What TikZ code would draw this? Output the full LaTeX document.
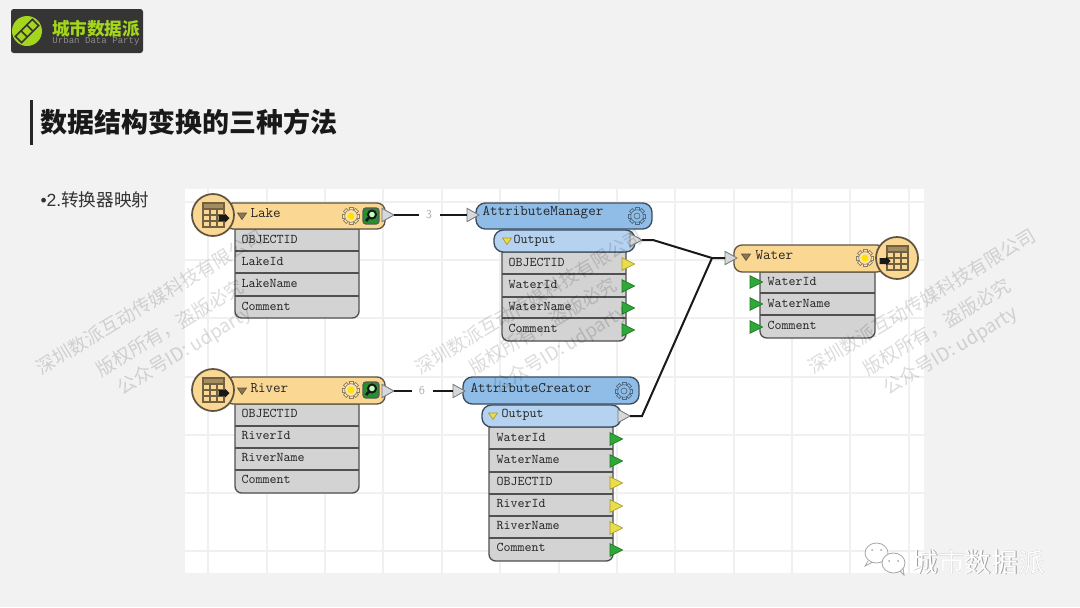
\documentclass[tikz,border=0pt]{standalone}
\usepackage{fontspec}
\usetikzlibrary{shapes.geometric}
\newfontfamily\cjk{Noto Sans CJK SC}
\newfontfamily\logomono{Liberation Mono}
\newfontfamily\latinsans{Liberation Sans}

\definecolor{slidebg}{HTML}{F2F2F2}
\definecolor{gridln}{HTML}{F0F0F0}
\definecolor{logodark}{HTML}{353535}
\definecolor{logogreen}{HTML}{A4D61C}
\definecolor{tanfill}{HTML}{FBD794}
\definecolor{tanline}{HTML}{5E5440}
\definecolor{gearfill}{HTML}{FBE3AE}
\definecolor{bluehead}{HTML}{8FBDE8}
\definecolor{bluesub}{HTML}{B5D3F0}
\definecolor{blueline}{HTML}{3C4E60}
\definecolor{rowfill}{HTML}{D3D3D3}
\definecolor{rowline}{HTML}{505050}
\definecolor{portgreen}{HTML}{2EA836}
\definecolor{portyellow}{HTML}{EBDD4A}
\definecolor{portgrey}{HTML}{D5D9DC}

\tikzset{every picture/.style={line width=0.75pt},
  tanbox/.style={draw=tanline,fill=tanfill,line width=1pt,rounded corners=6},
  bluebox/.style={draw=blueline,fill=bluehead,line width=1pt,rounded corners=7},
  subbox/.style={draw=blueline,fill=bluesub,line width=1pt,rounded corners=7},
  tablebody/.style={draw=rowline,fill=rowfill,line width=1pt},
  rowsep/.style={draw=rowline,line width=0.9pt},
  headtext/.style={anchor=west,inner sep=0pt,text=black!85,font=\ttfamily\fontsize{11}{13}\selectfont},
  rowtext/.style={anchor=west,inner sep=0pt,text=black!85,font=\ttfamily\fontsize{10}{12}\selectfont},
  port/.style={isosceles triangle,isosceles triangle stretches,anchor=west,inner sep=0pt,outer sep=0pt,minimum width=9.5pt,minimum height=9.5pt,draw=#1!70!black,fill=#1,line width=0.5pt},
  greyport/.style={isosceles triangle,isosceles triangle stretches,anchor=west,inner sep=0pt,outer sep=0pt,minimum width=10pt,minimum height=9pt,draw=black!55,fill=portgrey,line width=0.6pt},
  wire/.style={draw=black!90,line width=1.5pt},
  countlabel/.style={inner sep=0pt,minimum width=15pt,minimum height=8pt,text=black!30,font=\sffamily\fontsize{9}{11}\selectfont},
  watermark/.style={rotate=31,text=black,opacity=0.14,font=\cjk\fontsize{14}{16}\selectfont},
  gear/.pic={
    \foreach \a in {0,45,...,315}{\filldraw[draw=#1!55!black,fill=#1,line width=0.5pt,rotate=\a] (-2,5) rectangle (2,8.6);}
    \filldraw[draw=#1!55!black,fill=#1,line width=0.5pt] (0,0) circle (6.3);
  },
  tableicon/.pic={
    \filldraw[draw=tanline,fill=tanfill,line width=1.3pt] (0,0) circle (21);
    \fill[fill=black!35!tanfill] (-10,12) rectangle (11,6);
    \draw[draw=black!55!tanfill,line width=0.8pt] (-10,12) rectangle (11,-12) (-10,6) -- (11,6) (-10,0) -- (11,0) (-10,-6) -- (11,-6) (-3,6) -- (-3,-12) (4,6) -- (4,-12);
  },
  blackarrow/.pic={
    \fill[black!90] (-5.5,-3) rectangle (1,3) (1,-4.5) -- (5.5,0) -- (1,4.5) -- cycle;
  },
  lensicon/.pic={
    \filldraw[draw=black!65,fill=portgreen!85!black,line width=0.8pt,rounded corners=2] (-8,-8) rectangle (8,8);
    \draw[draw=black!90,fill=green!25!white,line width=1.5pt] (1,1.5) circle (4);
    \draw[draw=black!90,line width=2pt] (-1.8,-1.4) -- (-5,-5);
  },
  foldmark/.pic={
    \filldraw[draw=#1!70!black,fill=#1,line width=0.5pt] (-4.5,3) -- (4.5,3) -- (0,-3.5) -- cycle;
  }
}

\begin{document}
\begin{tikzpicture}[x=0.75pt,y=0.75pt,yscale=-1,xscale=1]
\useasboundingbox (0,0) rectangle (1080,607);

%Background
\fill[slidebg] (0,0) rectangle (1080,607);
\fill[white] (185,189) rectangle (924,573);
\draw[draw=gridln,line width=0.8pt]
  (208,189) -- (208,573) (267,189) -- (267,573) (325,189) -- (325,573) (383,189) -- (383,573)
  (442,189) -- (442,573) (500,189) -- (500,573) (559,189) -- (559,573) (617,189) -- (617,573)
  (675,189) -- (675,573) (734,189) -- (734,573) (792,189) -- (792,573) (850,189) -- (850,573) (909,189) -- (909,573)
  (185,202) -- (924,202) (185,260) -- (924,260) (185,318) -- (924,318) (185,377) -- (924,377)
  (185,435) -- (924,435) (185,493) -- (924,493) (185,551) -- (924,551);

%Logo
\fill[logodark,rounded corners=2] (11,9) rectangle (143,53);
\fill[logogreen] (27,31) circle (15);
\draw[draw=logodark,line width=1.2pt,rotate around={-45:(27,31)}] (15,26.5) rectangle (23,35.5) (23,26.5) rectangle (31,35.5) (31,26.5) rectangle (39,35.5);
\node (logotitle) at (96,29) [inner sep=0pt,text=logogreen,font=\cjk\bfseries\fontsize{13.2}{15}\selectfont] {城市数据派};
\node (logosub) at (96,41) [inner sep=0pt,text=black!45,font=\logomono\fontsize{6.8}{8}\selectfont] {Urban Data Party};

%Title
\fill[black!85] (30,100) rectangle (32.5,145);
\node (slidetitle) at (40,122) [anchor=west,inner sep=0pt,text=black!90,font=\cjk\bfseries\fontsize{20.25}{24}\selectfont] {数据结构变换的三种方法};
\node (bullettext) at (40,200) [anchor=west,inner sep=0pt,text=black!80,font=\cjk\fontsize{13.2}{15}\selectfont] {{\latinsans •2.}转换器映射};

%Lake
\draw[tablebody] (235,229) [rounded corners=5] -- (235,318) -- (359,318) [sharp corners] -- (359,229) -- cycle;
\draw[rowsep] (235,251) -- (359,251) (235,273) -- (359,273) (235,296) -- (359,296);
\draw[tanbox] (225,203) rectangle (385,229);
\pic at (213,215) {tableicon};
\pic at (224,218) {blackarrow};
\pic at (242,216) {foldmark=black!45!tanfill};
\pic at (351,216) {gear=gearfill};
\fill[yellow!85!orange] (351,216) circle (3.5);
\pic at (371,216) {lensicon};
\node (lakename) at (250,213) [headtext] {Lake};
\node (lakerow1) at (241,239) [rowtext] {OBJECTID};
\node (lakerow2) at (241,261) [rowtext] {LakeId};
\node (lakerow3) at (241,283) [rowtext] {LakeName};
\node (lakerow4) at (241,306) [rowtext] {Comment};
\node (lakeout) at (382,215) [greyport] {};

%River
\draw[tablebody] (235,404) [rounded corners=5] -- (235,493) -- (359,493) [sharp corners] -- (359,404) -- cycle;
\draw[rowsep] (235,426) -- (359,426) (235,448) -- (359,448) (235,470) -- (359,470);
\draw[tanbox] (225,377) rectangle (385,404);
\pic at (213,390) {tableicon};
\pic at (224,393) {blackarrow};
\pic at (242,391) {foldmark=black!45!tanfill};
\pic at (351,390) {gear=gearfill};
\fill[yellow!85!orange] (351,390) circle (3.5);
\pic at (371,390) {lensicon};
\node (rivername) at (250,388) [headtext] {River};
\node (riverrow1) at (241,413) [rowtext] {OBJECTID};
\node (riverrow2) at (241,435) [rowtext] {RiverId};
\node (riverrow3) at (241,457) [rowtext] {RiverName};
\node (riverrow4) at (241,479) [rowtext] {Comment};
\node (riverout) at (382,391) [greyport] {};

%AttributeManager
\draw[tablebody] (502,252) [rounded corners=5] -- (502,341) -- (626,341) [sharp corners] -- (626,252) -- cycle;
\draw[rowsep] (502,274) -- (626,274) (502,297) -- (626,297) (502,318) -- (626,318);
\draw[bluebox] (476,203) rectangle (652,229);
\draw[subbox] (494,230) rectangle (635,252);
\pic at (637,216) {gear=bluehead};
\fill[bluehead] (637,216) circle (3);
\draw[draw=bluehead!55!black,line width=0.5pt] (637,216) circle (3);
\pic at (507,241) {foldmark=portyellow};
\node (amname) at (482,213) [headtext] {AttributeManager};
\node (amsub) at (513,241) [rowtext] {Output};
\node (amrow1) at (508,262) [rowtext] {OBJECTID};
\node (amrow2) at (508,284) [rowtext] {WaterId};
\node (amrow3) at (508,306) [rowtext] {WaterName};
\node (amrow4) at (508,328) [rowtext] {Comment};
\node (amport1) at (622,264) [port=portyellow] {};
\node (amport2) at (622,286) [port=portgreen] {};
\node (amport3) at (622,308) [port=portgreen] {};
\node (amport4) at (622,330) [port=portgreen] {};
\node (amin) at (467,215) [greyport] {};
\node (amout) at (630,240) [greyport] {};

%AttributeCreator
\draw[tablebody] (489,427) [rounded corners=5] -- (489,561) -- (613,561) [sharp corners] -- (613,427) -- cycle;
\draw[rowsep] (489,449) -- (613,449) (489,472) -- (613,472) (489,494) -- (613,494) (489,516) -- (613,516) (489,538) -- (613,538);
\draw[bluebox] (463,377) rectangle (639,404);
\draw[subbox] (482,405) rectangle (621,427);
\pic at (624,391) {gear=bluehead};
\fill[bluehead] (624,391) circle (3);
\draw[draw=bluehead!55!black,line width=0.5pt] (624,391) circle (3);
\pic at (493,416) {foldmark=portyellow};
\node (acname) at (470,388) [headtext] {AttributeCreator};
\node (acsub) at (501,415) [rowtext] {Output};
\node (acrow1) at (496,437) [rowtext] {WaterId};
\node (acrow2) at (496,459) [rowtext] {WaterName};
\node (acrow3) at (496,481) [rowtext] {OBJECTID};
\node (acrow4) at (496,503) [rowtext] {RiverId};
\node (acrow5) at (496,525) [rowtext] {RiverName};
\node (acrow6) at (496,547) [rowtext] {Comment};
\node (acport1) at (610,439) [port=portgreen] {};
\node (acport2) at (610,461) [port=portgreen] {};
\node (acport3) at (610,483) [port=portyellow] {};
\node (acport4) at (610,506) [port=portyellow] {};
\node (acport5) at (610,528) [port=portyellow] {};
\node (acport6) at (610,550) [port=portgreen] {};
\node (acin) at (453,391) [greyport] {};
\node (acout) at (618,416) [greyport] {};

%Water
\draw[tablebody] (760,272) [rounded corners=5] -- (760,338) -- (875,338) [sharp corners] -- (875,272) -- cycle;
\draw[rowsep] (760,293) -- (875,293) (760,315) -- (875,315);
\draw[tanbox] (734,245) rectangle (885,272);
\pic at (897,258) {tableicon};
\pic at (885,261) {blackarrow};
\pic at (746,257) {foldmark=black!45!tanfill};
\pic at (865,258) {gear=gearfill};
\fill[yellow!85!orange] (865,258) circle (3.5);
\node (watername) at (755,255) [headtext] {Water};
\node (waterrow1) at (767,281) [rowtext] {WaterId};
\node (waterrow2) at (767,303) [rowtext] {WaterName};
\node (waterrow3) at (767,325) [rowtext] {Comment};
\node (waterport1) at (750,282) [port=portgreen] {};
\node (waterport2) at (750,304) [port=portgreen] {};
\node (waterport3) at (750,327) [port=portgreen] {};
\node (waterin) at (725,258) [greyport] {};

%Connections
\node (lakecount) at (429,215) [countlabel] {3};
\node (rivercount) at (422,391) [countlabel] {6};
\coordinate (amelbow) at (653,240);
\coordinate (acelbow) at (642,416);
\coordinate (waterjoin) at (712,258);
\draw[wire] (lakeout.east) -- (lakecount);
\draw[wire] (lakecount) -- (amin.west);
\draw[wire] (riverout.east) -- (rivercount);
\draw[wire] (rivercount) -- (acin.west);
\draw[wire] (amout.east) -- (amelbow) -- (waterjoin) -- (waterin.west);
\draw[wire] (acout.east) -- (acelbow) -- (waterjoin);

%Watermarks
\node (markone1) at (150,302) [watermark] {深圳数派互动传媒科技有限公司};
\node (markone2) at (170,328) [watermark] {版权所有，盗版必究};
\node (markone3) at (185,351) [watermark] {公众号ID: udparty};
\node (marktwo1) at (529,302) [watermark] {深圳数派互动传媒科技有限公司};
\node (marktwo2) at (543,326) [watermark] {版权所有，盗版必究};
\node (marktwo3) at (560,350) [watermark] {公众号ID: udparty};
\node (markthree1) at (922,301) [watermark] {深圳数派互动传媒科技有限公司};
\node (markthree2) at (937,327) [watermark] {版权所有，盗版必究};
\node (markthree3) at (951,351) [watermark] {公众号ID: udparty};

%Bottom mark
\filldraw[draw=black!35,fill=white,line width=0.6pt] (876.5,553) ellipse (11.5 and 10) (868,561) -- (865,566) -- (872,562.5);
\filldraw[draw=black!35,fill=white,line width=0.6pt] (893.5,563) ellipse (11.5 and 10) (900,571) -- (904,575) -- (903,568);
\fill[black!35] (872,550) circle (1) (881,550) circle (1) (889,561) circle (1) (898,561) circle (1);
\node (brandshadow) at (978.7,562.7) [inner sep=0pt,text=black!40,font=\cjk\fontsize{20}{24}\selectfont] {城市数据派};
\node (brandname) at (978,562) [inner sep=0pt,text=white,font=\cjk\fontsize{20}{24}\selectfont] {城市数据派};
\end{tikzpicture}
\end{document}
